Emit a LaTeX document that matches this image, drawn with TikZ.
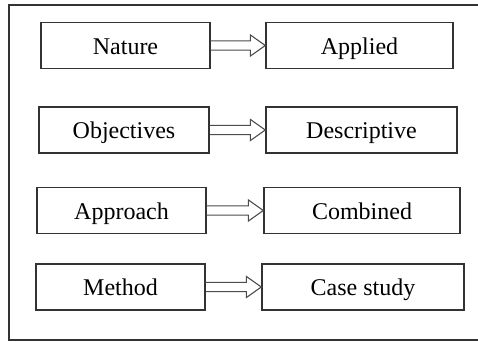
\documentclass[tikz,border=0pt]{standalone}
\usepackage{fontspec}
\setmainfont{Liberation Serif}
\usetikzlibrary{calc}
\tikzset{
  box/.style={draw=black!80,line width=0.7pt,minimum height=23pt,inner sep=0pt,text height=10pt,text depth=1pt,font=\fontsize{12}{14}\selectfont},
  hollow/.style={draw=black!70,line width=0.55pt,to path={
    ($(\tikztostart)+(0,2.3pt)$) -- ($(\tikztotarget)+(-7.5pt,2.3pt)$) -- ($(\tikztotarget)+(-7.5pt,5.3pt)$) -- (\tikztotarget)
    -- ($(\tikztotarget)+(-7.5pt,-5.3pt)$) -- ($(\tikztotarget)+(-7.5pt,-2.3pt)$) -- ($(\tikztostart)+(0,-2.3pt)$)}}
}
\begin{document}
\begin{tikzpicture}[x=0.5pt,y=-0.5pt]
\useasboundingbox (0,0) rectangle (478,342);
\draw[black!80,line width=0.7pt] (478,5) -- (9,5) -- (9,340) -- (478,340);
\node[box,minimum width=84.5pt] (nature) at (125.5,45.5) {Nature};
\node[box,minimum width=93.5pt] (applied) at (359.5,45.5) {Applied};
\node[box,minimum width=85pt] (objectives) at (124,130) {Objectives};
\node[box,minimum width=95.5pt] (descriptive) at (361.5,130) {Descriptive};
\node[box,minimum width=84.5pt] (approach) at (121.5,210.5) {Approach};
\node[box,minimum width=98pt] (combined) at (362,210.5) {Combined};
\node[box,minimum width=84.5pt] (method) at (120.5,287) {Method};
\node[box,minimum width=101pt] (casestudy) at (363,287) {Case study};
\draw[hollow] (nature.east) to (applied.west);
\draw[hollow] (objectives.east) to (descriptive.west);
\draw[hollow] (approach.east) to (combined.west);
\draw[hollow] (method.east) to (casestudy.west);
\end{tikzpicture}
\end{document}
